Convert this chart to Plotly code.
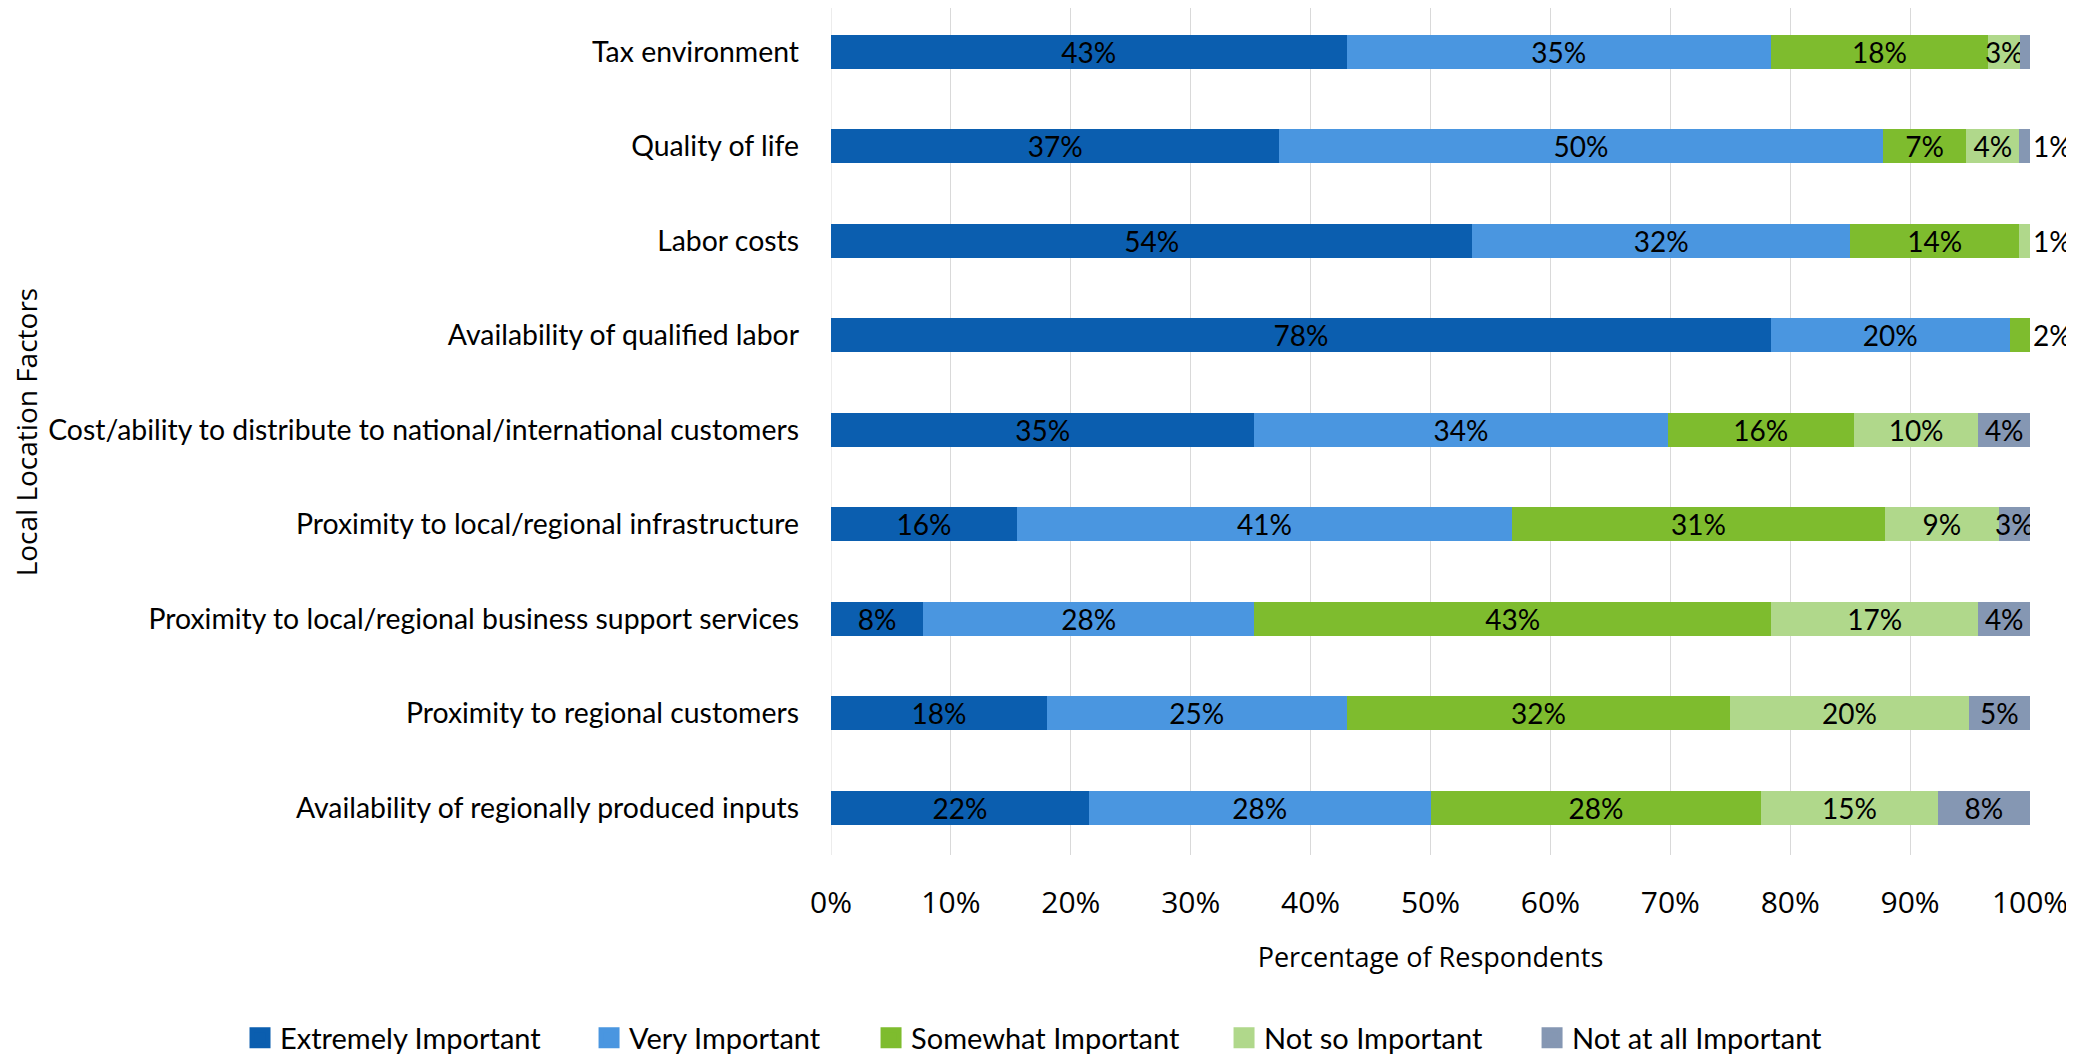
import plotly.graph_objects as go

categories = [
    "Tax environment",
    "Quality of life",
    "Labor costs",
    "Availability of qualified labor",
    "Cost/ability to distribute to national/international customers",
    "Proximity to local/regional infrastructure",
    "Proximity to local/regional business support services",
    "Proximity to regional customers",
    "Availability of regionally produced inputs",
]

series_names = ["Extremely Important", "Very Important", "Somewhat Important",
                "Not so Important", "Not at all Important"]

extremely = [43.0, 37.4, 53.5, 78.4, 35.3, 15.5, 7.7, 18.0, 21.5]
very = [35.4, 50.3, 31.5, 19.9, 34.5, 41.3, 27.6, 25.0, 28.5]
somewhat = [18.1, 7.0, 14.1, 1.7, 15.5, 31.1, 43.1, 32.0, 27.6]
not_so = [2.7, 4.4, 0.9, 0.0, 10.4, 9.5, 17.3, 19.9, 14.7]
not_at_all = [0.8, 0.9, 0.0, 0.0, 4.3, 2.6, 4.3, 5.1, 7.7]

extremely_lbl = [43, 37, 54, 78, 35, 16, 8, 18, 22]
very_lbl = [35, 50, 32, 20, 34, 41, 28, 25, 28]
somewhat_lbl = [18, 7, 14, 2, 16, 31, 43, 32, 28]
not_so_lbl = [3, 4, 1, None, 10, 9, 17, 20, 15]
not_at_all_lbl = [None, 1, None, None, 4, 3, 4, 5, 8]

x_ticks = [0, 10, 20, 30, 40, 50, 60, 70, 80, 90, 100]
x_tick_text = ["0%", "10%", "20%", "30%", "40%", "50%", "60%", "70%", "80%", "90%", "100%"]

colors = ["#0B5EAF", "#4A96E0", "#7EBC2E", "#B0D88B", "#8597B3"]

values = [extremely, very, somewhat, not_so, not_at_all]
labels = [extremely_lbl, very_lbl, somewhat_lbl, not_so_lbl, not_at_all_lbl]

NARROW = "Lato, sans-serif"
WIDE = "Open Sans, DejaVu Sans, sans-serif"

# legend positions (paper x) for the five legend entries
legend_x = [-0.4929, -0.2018, 0.0334, 0.3278, 0.5847]
legend_ids = ["legend", "legend2", "legend3", "legend4", "legend5"]

fig = go.Figure()
annotations = []
cum = [0.0] * len(categories)
for k, (name, vals, lbls, col) in enumerate(zip(series_names, values, labels, colors)):
    texts = []
    for i, (v, l) in enumerate(zip(vals, lbls)):
        cum[i] = round(cum[i] + v, 6)
        if l is None:
            texts.append("")
        elif v < 2:
            texts.append("")
            annotations.append(dict(
                x=min(cum[i], 100), y=categories[i], xref="x", yref="y",
                text=f"{l}%", showarrow=False, xanchor="left", xshift=1,
                font=dict(family=NARROW, size=28, color="black"),
            ))
        else:
            texts.append(f"{l}%")
    fig.add_trace(go.Bar(
        y=categories, x=vals, name=name, orientation="h",
        marker=dict(color=col, line=dict(width=0)),
        text=texts, textposition="inside", insidetextanchor="middle",
        textangle=0, constraintext="none",
        insidetextfont=dict(family=NARROW, size=28, color="black"),
        showlegend=False,
    ))
    # legend entry with a larger square swatch
    fig.add_trace(go.Scatter(
        x=[None], y=[None], mode="markers", name=name,
        marker=dict(symbol="square", size=16, color=col, line=dict(color=col, width=5)),
        legend=legend_ids[k], hoverinfo="skip",
    ))

annotations.append(dict(
    x=-0.6715, y=0.5, xref="paper", yref="paper", text="Local Location Factors",
    textangle=-90, showarrow=False, xanchor="center", yanchor="middle",
    font=dict(family=WIDE, size=28, color="black"),
))

layout_legends = {}
for k, lid in enumerate(legend_ids):
    layout_legends[lid] = dict(
        x=legend_x[k], y=-0.216, xanchor="left", yanchor="middle",
        orientation="h", bgcolor="rgba(0,0,0,0)",
        font=dict(family=NARROW, size=29, color="black"),
    )

fig.update_layout(
    width=2066, height=1058,
    margin=dict(l=823, r=44, t=0, b=211),
    barmode="stack", bargap=0.64,
    plot_bgcolor="white", paper_bgcolor="white",
    showlegend=True,
    annotations=annotations,
    **layout_legends,
)
fig.update_xaxes(
    range=[0, 100], tickvals=x_ticks, ticktext=x_tick_text,
    showgrid=True, gridcolor="#D9D9D9", gridwidth=1,
    zeroline=False, showline=False,
    tickfont=dict(family=WIDE, size=30, color="black"),
    ticklabelstandoff=27,
    title=dict(text="Percentage of Respondents", standoff=27,
               font=dict(family=WIDE, size=27, color="black")),
)
fig.update_yaxes(
    categoryorder="array", categoryarray=categories,
    range=[8.5, -0.466],
    showgrid=False, zeroline=False, showline=False,
    tickfont=dict(family=NARROW, size=28.4, color="black"),
    ticklabelstandoff=31,
)
# left gridline at 0%
fig.add_vline(x=0, line=dict(color="#D9D9D9", width=1), layer="below")

fig.write_html("out.html")
